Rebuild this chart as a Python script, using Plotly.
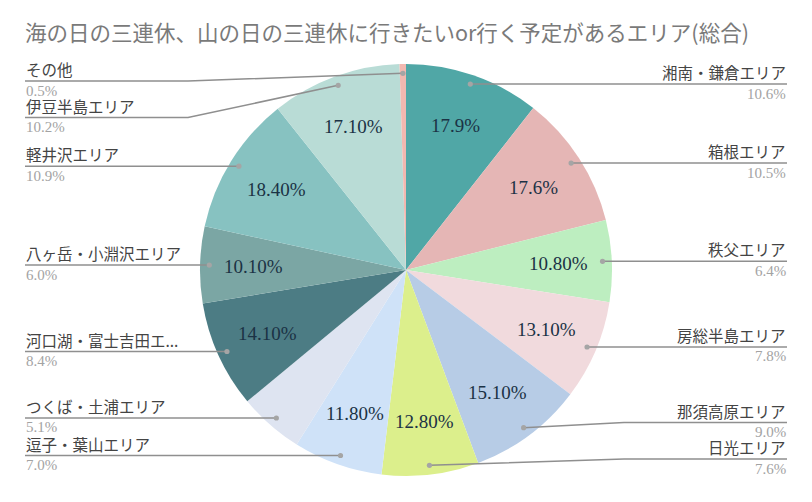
import math
import plotly.graph_objects as go

# ---- data ----
areas = ["湘南・鎌倉エリア", "箱根エリア", "秩父エリア", "房総半島エリア", "那須高原エリア",
         "日光エリア", "逗子・葉山エリア", "つくば・土浦エリア", "河口湖・富士吉田エ...",
         "八ヶ岳・小淵沢エリア", "軽井沢エリア", "伊豆半島エリア", "その他"]
shares = [10.6, 10.5, 6.4, 7.8, 9.0, 7.6, 7.0, 5.1, 8.4, 6.0, 10.9, 10.2, 0.5]
inner_labels = ["17.9%", "17.6%", "10.80%", "13.10%", "15.10%", "12.80%", "11.80%", "",
                "14.10%", "10.10%", "18.40%", "17.10%", ""]
colors = ["#50a7a6", "#e5b6b5", "#bdeec0", "#f1dadd", "#b7cce6", "#dcef8c", "#cfe2f8",
          "#dee4f1", "#4c7c84", "#7ba6a4", "#87c2c1", "#b9dcd6", "#f2b8b0"]
title = "海の日の三連休、山の日の三連休に行きたいor行く予定があるエリア(総合)"

# ---- layout geometry (pixels) ----
W, H = 812, 502
CX, CY, R = 406, 270, 206
DOT_R = 0.955 * R
IN_R = 0.74 * R
LEFT_X, RIGHT_X = 25, 787
BEND = 12
GAP, TOP, BOTTOM = 36.5, 81, 459

fig = go.Figure()
fig.add_trace(go.Pie(
    labels=areas, values=shares, sort=False, direction="clockwise", rotation=0,
    marker=dict(colors=colors, line=dict(width=0)),
    textinfo="none", hoverinfo="label+percent", showlegend=False,
    domain=dict(x=[(CX - R) / W, (CX + R) / W], y=[1 - (CY + R) / H, 1 - (CY - R) / H]),
))
# invisible trace to create a pixel-space cartesian frame for shapes/annotations
fig.add_trace(go.Scatter(x=[], y=[], showlegend=False, hoverinfo="skip"))

total = sum(shares)
cum = 0.0
items = []
for i, v in enumerate(shares):
    mid = (cum + v / 2) / total * 2 * math.pi
    cum += v
    dx, dy = CX + DOT_R * math.sin(mid), CY - DOT_R * math.cos(mid)
    side = "right" if math.sin(mid) > 0 else "left"
    items.append(dict(i=i, mid=mid, dx=dx, dy=dy, side=side, ly=dy))

for side in ("left", "right"):
    grp = sorted([it for it in items if it["side"] == side], key=lambda t: t["dy"])
    for k, it in enumerate(grp):
        lo = TOP if k == 0 else grp[k - 1]["ly"] + GAP
        it["ly"] = max(it["ly"], lo)
    for k in range(len(grp) - 1, -1, -1):
        hi = BOTTOM if k == len(grp) - 1 else grp[k + 1]["ly"] - GAP
        grp[k]["ly"] = min(grp[k]["ly"], hi)

shapes = []
annotations = []
LINE_COL = "#8f8f8f"
for it in items:
    i = it["i"]
    if it["side"] == "right":
        ex, bx, anchor = RIGHT_X, CX + R + BEND, "right"
    else:
        ex, bx, anchor = LEFT_X, CX - R - BEND, "left"
    if abs(it["ly"] - it["dy"]) < 1.5:
        path = f"M {it['dx']},{it['ly']} L {ex},{it['ly']}"
    else:
        path = f"M {it['dx']},{it['dy']} L {bx},{it['ly']} L {ex},{it['ly']}"
    shapes.append(dict(type="path", xref="x", yref="y", path=path, layer="above",
                       line=dict(color=LINE_COL, width=1.5)))
    shapes.append(dict(type="circle", xref="x", yref="y", layer="above",
                       x0=it["dx"] - 2.6, x1=it["dx"] + 2.6, y0=it["dy"] - 2.6, y1=it["dy"] + 2.6,
                       fillcolor="#a5a5a5", line=dict(width=0)))
    annotations.append(dict(x=ex, y=it["ly"] - 12, xref="x", yref="y", text=areas[i],
                            xanchor=anchor, yanchor="middle", showarrow=False, borderpad=0,
                            font=dict(family="Noto Sans CJK JP", size=15.5, color="#444444")))
    annotations.append(dict(x=ex, y=it["ly"] + 9.5, xref="x", yref="y", text=f"{shares[i]:.1f}%",
                            xanchor=anchor, yanchor="middle", showarrow=False, borderpad=0,
                            font=dict(family="Liberation Serif", size=15, color="#a3a3a3")))
    if inner_labels[i]:
        tx, ty = CX + IN_R * math.sin(it["mid"]), CY - IN_R * math.cos(it["mid"])
        annotations.append(dict(x=tx, y=ty, xref="x", yref="y", text=inner_labels[i],
                                xanchor="center", yanchor="middle", showarrow=False,
                                font=dict(family="Liberation Serif", size=19, color="#1b3245")))

fig.update_layout(
    width=W, height=H, margin=dict(l=0, r=0, t=0, b=0),
    paper_bgcolor="white", plot_bgcolor="rgba(0,0,0,0)",
    xaxis=dict(range=[0, W], visible=False, fixedrange=True, domain=[0, 1]),
    yaxis=dict(range=[H, 0], visible=False, fixedrange=True, domain=[0, 1]),
    title=dict(text=title, x=LEFT_X / W, xanchor="left", y=1 - 33 / H, yanchor="middle",
               xref="paper", yref="container",
               font=dict(family="Noto Sans CJK JP", size=21.5, color="#7a7a7a")),
    shapes=shapes, annotations=annotations,
)
fig.write_html("out.html")
